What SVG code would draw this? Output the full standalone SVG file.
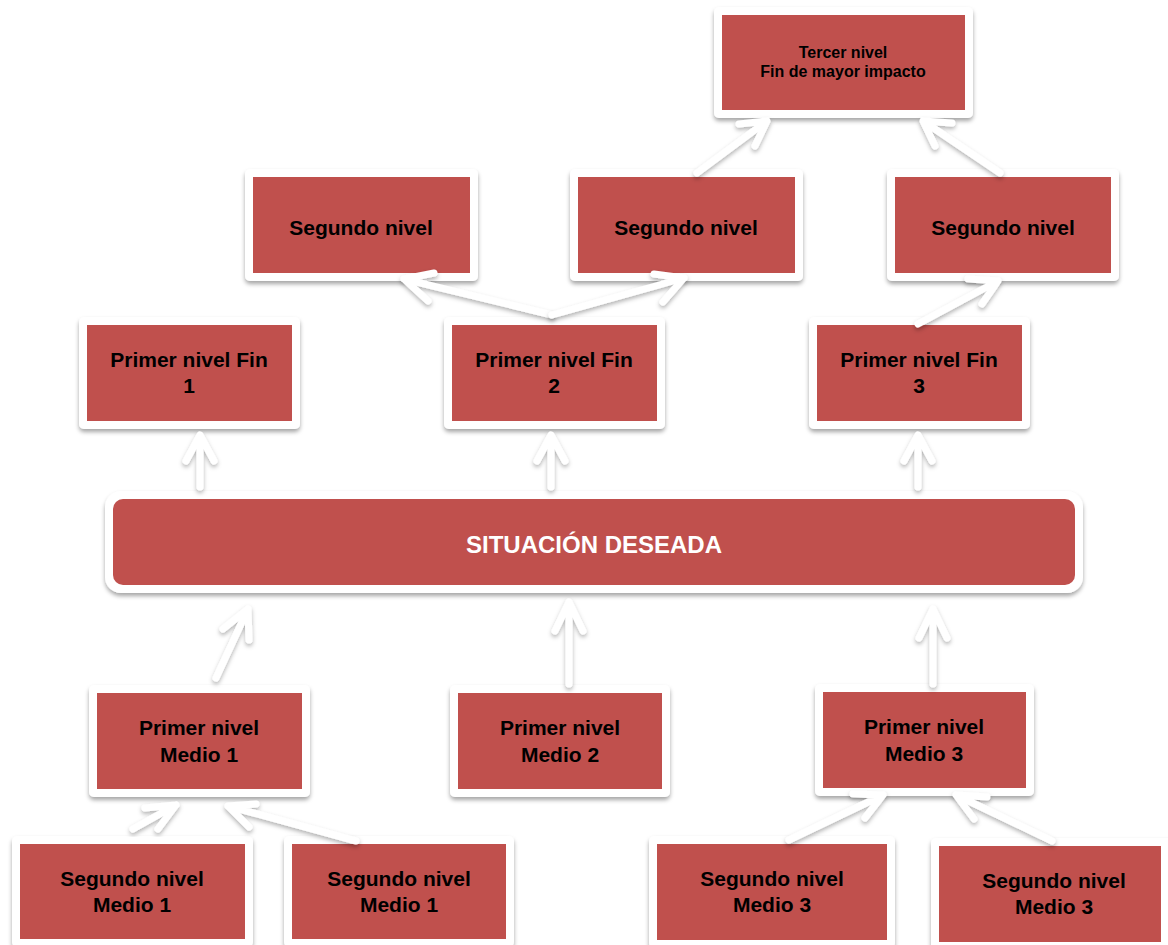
<svg xmlns="http://www.w3.org/2000/svg" width="1168" height="945" viewBox="0 0 1168 945">
  <defs>
    <filter id="sh" x="-10%" y="-20%" width="120%" height="150%">
      <feDropShadow dx="0" dy="3" stdDeviation="2.2" flood-color="#000" flood-opacity="0.35"/>
    </filter>
    <filter id="ash" x="-30%" y="-30%" width="160%" height="160%">
      <feDropShadow dx="0" dy="2.5" stdDeviation="2" flood-color="#000" flood-opacity="0.3"/>
    </filter>
  </defs>
  <style>
    .frame { fill: #ffffff; filter: url(#sh); }
    .box { fill: #C0504D; }
    .t { font-family: "Liberation Sans", Arial, sans-serif; font-weight: bold; font-size: 21px; fill: #000; text-anchor: middle; }
    .ts { font-size: 16px; }
    .tw { fill: #ffffff; font-size: 24px; }
    .arr { fill: none; stroke: #ffffff; stroke-width: 7; stroke-linecap: round; stroke-linejoin: round; filter: url(#ash); }
  </style>

  <rect width="1168" height="945" fill="#ffffff"/>

  <g id="tercer">
    <rect class="frame" x="714" y="7" width="259" height="111" rx="5"/>
    <rect class="box" x="722" y="15" width="243" height="95"/>
    <text class="t ts" x="843" y="58">Tercer nivel</text>
    <text class="t ts" x="843" y="77">Fin de mayor impacto</text>
  </g>

  <g id="seg1">
    <rect class="frame" x="245" y="169" width="233" height="112" rx="5"/>
    <rect class="box" x="253" y="177" width="217" height="96"/>
    <text class="t" x="361" y="235">Segundo nivel</text>
  </g>
  <g id="seg2">
    <rect class="frame" x="570" y="169" width="233" height="112" rx="5"/>
    <rect class="box" x="578" y="177" width="217" height="96"/>
    <text class="t" x="686" y="235">Segundo nivel</text>
  </g>
  <g id="seg3">
    <rect class="frame" x="887" y="169" width="232" height="112" rx="5"/>
    <rect class="box" x="895" y="177" width="216" height="96"/>
    <text class="t" x="1003" y="235">Segundo nivel</text>
  </g>

  <g id="fin1">
    <rect class="frame" x="79" y="317" width="221" height="112" rx="5"/>
    <rect class="box" x="87" y="325" width="205" height="96"/>
    <text class="t" x="189" y="367">Primer nivel Fin</text>
    <text class="t" x="189" y="393">1</text>
  </g>
  <g id="fin2">
    <rect class="frame" x="444" y="317" width="221" height="112" rx="5"/>
    <rect class="box" x="452" y="325" width="205" height="96"/>
    <text class="t" x="554" y="367">Primer nivel Fin</text>
    <text class="t" x="554" y="393">2</text>
  </g>
  <g id="fin3">
    <rect class="frame" x="809" y="317" width="221" height="112" rx="5"/>
    <rect class="box" x="817" y="325" width="205" height="96"/>
    <text class="t" x="919" y="367">Primer nivel Fin</text>
    <text class="t" x="919" y="393">3</text>
  </g>

  <g id="situacion">
    <rect class="frame" x="105" y="491" width="978" height="102" rx="16"/>
    <rect class="box" x="113" y="499" width="962" height="86" rx="10"/>
    <text class="t tw" x="594" y="553">SITUACIÓN DESEADA</text>
  </g>

  <g id="medio1">
    <rect class="frame" x="89" y="685" width="221" height="112" rx="5"/>
    <rect class="box" x="97" y="693" width="205" height="96"/>
    <text class="t" x="199" y="735">Primer nivel</text>
    <text class="t" x="199" y="762">Medio 1</text>
  </g>
  <g id="medio2">
    <rect class="frame" x="450" y="685" width="220" height="112" rx="5"/>
    <rect class="box" x="458" y="693" width="204" height="96"/>
    <text class="t" x="560" y="735">Primer nivel</text>
    <text class="t" x="560" y="762">Medio 2</text>
  </g>
  <g id="medio3">
    <rect class="frame" x="815" y="684" width="219" height="112" rx="5"/>
    <rect class="box" x="823" y="692" width="203" height="96"/>
    <text class="t" x="924" y="734">Primer nivel</text>
    <text class="t" x="924" y="761">Medio 3</text>
  </g>

  <g id="segmedio1a">
    <rect class="frame" x="12" y="836" width="241" height="111" rx="5"/>
    <rect class="box" x="20" y="844" width="225" height="95"/>
    <text class="t" x="132" y="886">Segundo nivel</text>
    <text class="t" x="132" y="912">Medio 1</text>
  </g>
  <g id="segmedio1b">
    <rect class="frame" x="284" y="836" width="230" height="111" rx="5"/>
    <rect class="box" x="292" y="844" width="214" height="95"/>
    <text class="t" x="399" y="886">Segundo nivel</text>
    <text class="t" x="399" y="912">Medio 1</text>
  </g>
  <g id="segmedio3a">
    <rect class="frame" x="649" y="836" width="246" height="112" rx="5"/>
    <rect class="box" x="657" y="844" width="230" height="96"/>
    <text class="t" x="772" y="886">Segundo nivel</text>
    <text class="t" x="772" y="912">Medio 3</text>
  </g>
  <g id="segmedio3b">
    <rect class="frame" x="931" y="838" width="245" height="112" rx="5"/>
    <rect class="box" x="939" y="846" width="222" height="96"/>
    <text class="t" x="1054" y="888">Segundo nivel</text>
    <text class="t" x="1054" y="914">Medio 3</text>
  </g>

  <g id="connectors">
    <path class="arr" d="M697,173 L767,121 M739,124 L767,121 L755,146"/>
    <path class="arr" d="M1000,173 L923,121 M952,123 L923,121 L935,146"/>
    <path class="arr" d="M552,315 L404,279 M434,273 L404,279 L428,301"/>
    <path class="arr" d="M552,315 L684,278 M654,274 L684,278 L663,302"/>
    <path class="arr" d="M918,324 L998,281 M968,279 L998,281 L982,304"/>
    <path class="arr" d="M200,487 L200,435 M186,461 L200,435 L214,461"/>
    <path class="arr" d="M551,487 L551,435 M537,461 L551,435 L565,461"/>
    <path class="arr" d="M918,487 L918,435 M904,461 L918,435 L932,461"/>
    <path class="arr" d="M216,678 L248,609 M223,629 L248,609 L249,640"/>
    <path class="arr" d="M569,684 L569,602 M555,631 L569,602 L583,631"/>
    <path class="arr" d="M933,684 L933,609 M919,638 L933,609 L947,638"/>
    <path class="arr" d="M133,829 L176,805 M145,808 L176,805 L158,829"/>
    <path class="arr" d="M356,841 L228,806 M256,804 L228,806 L249,827"/>
    <path class="arr" d="M789,840 L883,795 M853,794 L883,795 L865,818"/>
    <path class="arr" d="M1052,841 L956,795 M987,797 L956,795 L974,819"/>
  </g>
</svg>
